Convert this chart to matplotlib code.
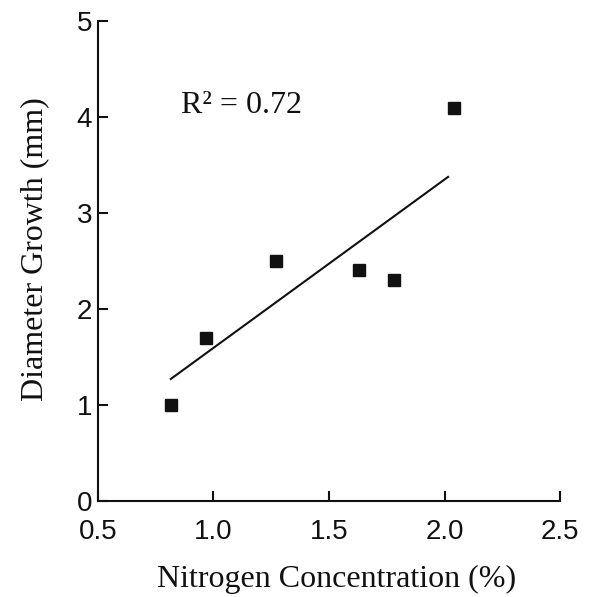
import matplotlib
matplotlib.use("Agg")
import matplotlib.pyplot as plt

# Data
nitrogen = [0.816, 0.968, 1.27, 1.63, 1.78, 2.04]
diameter = [1.0, 1.7, 2.5, 2.4, 2.3, 4.09]
fit_x = [0.816, 2.015]
fit_y = [1.27, 3.375]
xticks = [0.5, 1.0, 1.5, 2.0, 2.5]
yticks = [0, 1, 2, 3, 4, 5]

fig = plt.figure(figsize=(5.96, 5.97), dpi=100)
ax = fig.add_axes([0.164, 0.161, 0.776, 0.804])

ax.plot(nitrogen, diameter, 's', color='#111111', markersize=8.5)
ax.plot(fit_x, fit_y, '-', color='#111111', linewidth=1.5)

ax.set_xlim(0.5, 2.5)
ax.set_ylim(0, 5)
ax.set_xticks(xticks)
ax.set_xticklabels([f'{t:.1f}' for t in xticks])
ax.set_yticks(yticks)
ax.set_yticklabels([str(t) for t in yticks])

for s in ['top', 'right']:
    ax.spines[s].set_visible(False)
for s in ['left', 'bottom']:
    ax.spines[s].set_linewidth(1.5)
    ax.spines[s].set_color('#111111')

ax.tick_params(direction='in', length=7, width=1.5, color='#111111',
               labelsize=20, labelcolor='#111111')
ax.tick_params(axis='x', pad=13)
ax.tick_params(axis='y', pad=4)
for lab in ax.get_xticklabels() + ax.get_yticklabels():
    lab.set_family('Liberation Sans')

ax.set_xlabel('Nitrogen Concentration (%)', family='Liberation Serif',
              fontsize=23, color='#111111')
ax.set_ylabel('Diameter Growth (mm)', family='Liberation Serif',
              fontsize=23, color='#111111')
ax.xaxis.set_label_coords(0.517, -0.133)
ax.yaxis.set_label_coords(-0.106, 0.525)

ax.text(0.86, 4.12, 'R² = 0.72', family='Liberation Serif', fontsize=23,
        color='#111111', va='center', ha='left')

fig.savefig('out.png', dpi=100)
